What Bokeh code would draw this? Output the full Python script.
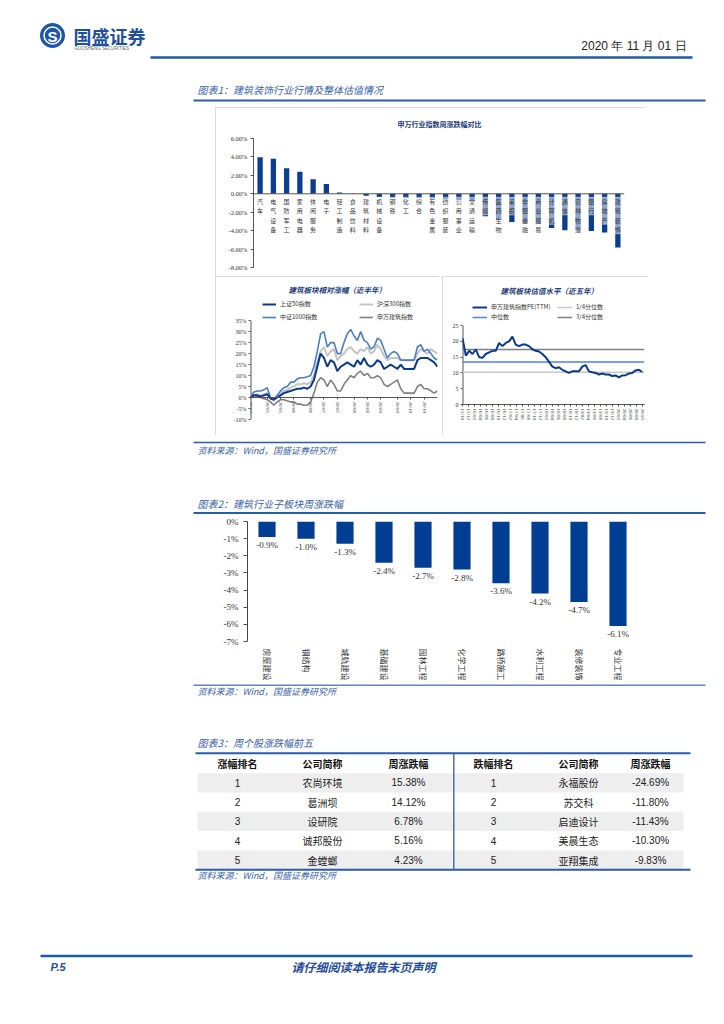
from bokeh.plotting import figure
from bokeh.layouts import column, row
from bokeh.models import Range1d, FactorRange, FixedTicker, Span, Legend, LegendItem, Spacer
from bokeh.core.properties import value
from bokeh.embed import file_html
from bokeh.resources import INLINE

CJK = "Noto Sans CJK SC"
SERIF = "Liberation Serif"
SANS = "Liberation Sans"
LINE_BLUE = "#2b5ca7"
TXT_BLUE = "#3762a8"
BAR_BLUE = "#0a3e90"
PAGE_W = 724

# ---------------- data: figure 1 (top) ----------------
sw_industries = ["汽车", "电气设备", "国防军工", "家用电器", "休闲服务", "电子", "轻工制造",
                 "食品饮料", "建筑材料", "机械设备", "钢铁", "化工", "综合", "有色金属",
                 "纺织服装", "公用事业", "交通运输", "传媒", "医药生物", "采掘", "非银金融",
                 "商业贸易", "计算机", "通信", "农林牧渔", "银行", "房地产", "建筑装饰"]
sw_weekly_chg = [3.96, 3.79, 2.77, 2.39, 1.58, 1.05, 0.14, -0.02, -0.22, -0.36, -0.42, -0.45,
                 -0.46, -0.50, -0.58, -0.68, -0.78, -2.45, -2.85, -3.05, -3.18, -3.27, -3.72,
                 -3.95, -3.95, -4.05, -4.20, -5.82]
sw_y_ticks = [-8, -6, -4, -2, 0, 2, 4, 6]
sw_y_labels = ["-8.00%", "-6.00%", "-4.00%", "-2.00%", "0.00%", "2.00%", "4.00%", "6.00%"]

# ---------------- data: relative performance (half year) ----------------
rel_tick_pos = [0, 5, 9, 13, 18, 22, 26, 31, 35, 39, 44, 48, 52]
rel_tick_labels = ["20/04", "20/05", "20/05", "20/06", "20/06", "20/07", "20/07",
                   "20/08", "20/08", "20/09", "20/09", "20/10", "20/10"]
sz50 = [0, 1, 1, 0.5, 1, 1.5, -0.5, -1, 0, 1, 2, 2.5, 3, 3.5, 4, 4, 4.5, 4, 5, 8, 14, 20, 18,
        14, 17, 16, 12, 14, 15, 16, 15, 14, 17, 15, 18, 15, 14, 15, 17, 16, 13, 14, 15, 14, 13,
        15, 13, 13, 13, 13, 17, 18, 18, 18, 17, 16, 14]
hs300 = [0, 1, 1.5, 1, 1.5, 2, 0, -1, 0.5, 1.5, 3, 3.5, 4.5, 5, 6, 6, 6.5, 6, 7, 10, 16, 21,
         23, 19, 21, 22, 17, 19, 20, 22, 23, 21, 20, 22, 21, 23, 20, 21, 24, 22, 19, 17, 18,
         18, 18, 17, 17, 17, 17, 17, 20, 22, 21, 20, 22, 21, 20]
zz1000 = [0, 2.5, 3, 3, 3.5, 4.5, 0, -1, 1, 3, 4.5, 5, 7, 7, 8.5, 9, 9, 9.5, 10, 14, 21, 29,
          30, 23, 25, 25, 20, 20, 25, 29, 31, 28, 26, 30, 26, 25, 22, 23, 27, 26, 22, 18, 20,
          21, 20, 17, 17, 17, 17, 17, 23, 24, 21, 22, 20, 18, 17]
sw_build = [0, 1, 0.5, 0, -0.5, -1, -2, -3.5, -2, -1, -1, -1.5, -2, -2, -3, -3, -3.5, -3.5,
            -2, 2, 7, 9, 8, 5, 8, 6, 3, 3, 6, 8, 10, 9, 11, 12, 10, 11, 9, 9, 10, 9, 6, 5, 6,
            7, 8, 4, 2, 2, 2, 2, 5, 6, 4, 4, 3, 2, 3]
rel_y_ticks = [-10, -5, 0, 5, 10, 15, 20, 25, 30, 35]
rel_y_labels = ["-10%", "-5%", "0%", "5%", "10%", "15%", "20%", "25%", "30%", "35%"]

# ---------------- data: valuation (five years) ----------------
pe_ttm = [21, 15.5, 17, 16, 17.5, 15, 14.8, 16, 16.5, 17, 17, 19.5, 18.5, 19.5, 20, 21.5, 19,
          18.5, 19, 19, 18.5, 17.5, 17, 16.8, 16, 15, 13.5, 12, 11.5, 11.8, 11, 10.5, 10,
          10.5, 10.5, 10.5, 12, 12.5, 10.5, 10.2, 10, 9.5, 9.8, 9.5, 9.5, 9, 9.2, 8.6, 9.2,
          9.3, 9.8, 10, 10.8, 11, 10.3]
pe_q25 = 10.2
pe_median = 13.5
pe_q75 = 17.4
pe_tick_labels = ["15/10", "15/12", "16/02", "16/04", "16/06", "16/08", "16/10", "16/12",
                  "17/02", "17/04", "17/06", "17/08", "17/10", "17/12", "18/02", "18/04",
                  "18/06", "18/08", "18/10", "18/12", "19/02", "19/04", "19/06", "19/08",
                  "19/10", "19/12", "20/02", "20/04", "20/06", "20/08", "20/10"]
pe_y_ticks = [0, 5, 10, 15, 20, 25]
pe_y_labels = ["0", "5", "10", "15", "20", "25"]

# ---------------- data: figure 2 ----------------
sub_sectors = ["房屋建设", "钢结构", "城轨建设", "基础建设", "园林工程", "化学工程",
               "路桥施工", "水利工程", "装修装饰", "专业工程"]
sub_weekly_chg = [-0.9, -1.0, -1.3, -2.4, -2.7, -2.8, -3.6, -4.2, -4.7, -6.1]
sub_y_ticks = [0, -1, -2, -3, -4, -5, -6, -7]
sub_y_labels = ["0%", "-1%", "-2%", "-3%", "-4%", "-5%", "-6%", "-7%"]

# ---------------- data: figure 3 (table) ----------------
table_header = ["涨幅排名", "公司简称", "周涨跌幅", "跌幅排名", "公司简称", "周涨跌幅"]
gain_rank = ["1", "2", "3", "4", "5"]
gain_names = ["农尚环境", "葛洲坝", "设研院", "诚邦股份", "金螳螂"]
gain_pct = [15.38, 14.12, 6.78, 5.16, 4.23]
loss_rank = ["1", "2", "3", "4", "5"]
loss_names = ["永福股份", "苏交科", "启迪设计", "美晨生态", "亚翔集成"]
loss_pct = [-24.69, -11.80, -11.43, -10.30, -9.83]

SOURCE = "资料来源：Wind，国盛证券研究所"


# ---------------- helpers ----------------
def deco(top, bottom):
    p = figure(width=PAGE_W, height=bottom - top, x_range=Range1d(0, PAGE_W),
               y_range=Range1d(bottom, top), x_axis_type=None, y_axis_type=None,
               toolbar_location=None, output_backend="svg", min_border=0)
    p.outline_line_color = None
    p.frame_align = False
    return p


def txt(p, x, y, s, size, color="#222222", font=CJK, style="normal", align="left",
        baseline="middle"):
    p.text(x=[x], y=[y], text=[s], text_font=value(font), text_font_size=size,
           text_color=color, text_font_style=style, text_align=align,
           text_baseline=baseline)


def hline(p, x0, x1, y, color=LINE_BLUE, w=2.0):
    p.segment(x0=[x0], y0=[y], x1=[x1], y1=[y], line_color=color, line_width=w)


def style_chart(p, box=True):
    p.grid.grid_line_color = None
    p.outline_line_color = None
    p.background_fill_color = "white"
    p.frame_align = False
    if box:
        p.styles = {"outline": "1px solid #cfcfcf", "outline-offset": "-1px"}


def style_axis(ax, size, font=SERIF):
    ax.major_label_text_font = font
    ax.major_label_text_font_size = size
    ax.major_label_text_color = "#333333"
    ax.major_label_standoff = 2
    ax.major_tick_in = 0
    ax.major_tick_out = 2
    ax.minor_tick_line_color = None
    ax.axis_line_color = "#555555"
    ax.major_tick_line_color = "#555555"


def chart_title(p, text, size, offset, standoff):
    p.title.text = text
    p.title.align = "left"
    p.title.offset = offset
    p.title.text_font = CJK
    p.title.text_font_size = size
    p.title.text_color = "#1c3c78"
    p.title.text_font_style = "bold italic"
    p.title.standoff = standoff


def legend_row(p, items, loc, glyph_w, label_w):
    leg = Legend(items=[LegendItem(label=lab, renderers=[r]) for lab, r in items],
                 orientation="horizontal", location=loc,
                 label_text_font=CJK, label_text_font_size="6px", label_text_color="#333333",
                 glyph_width=glyph_w, glyph_height=6, label_height=8, label_width=label_w,
                 label_standoff=4, spacing=3, padding=0, margin=0,
                 border_line_color=None, background_fill_alpha=0)
    p.add_layout(leg)


# ---------------- band 1: header ----------------
hdr = deco(0, 107)
hdr.scatter(x=[52], y=[35], size=25, marker="circle", fill_color="#1d56a5", line_color=None)
hdr.scatter(x=[52], y=[35], size=17, marker="circle", fill_color=None, line_color="white",
            line_width=1.5)
txt(hdr, 52, 35.5, "S", "15px", color="white", font=SANS, style="bold", align="center")
txt(hdr, 73, 35, "国盛证券", "18px", color="#1d4f9d", style="bold")
txt(hdr, 74, 48, "GUOSHENG SECURITIES", "4.5px", color="#666666", font=SANS)
txt(hdr, 686, 45, "2020 年 11 月 01 日", "12px", color="#222222", font=SANS, align="right")
hline(hdr, 150, 692, 57, color="#2358a6", w=2.5)
txt(hdr, 197, 89, "图表1：建筑装饰行业行情及整体估值情况", "10px", color=TXT_BLUE, style="italic")
hline(hdr, 193, 705, 100)

# ---------------- band 2: SW industry weekly change ----------------
p1 = figure(width=430, height=169, x_range=FactorRange(*sw_industries),
            y_range=Range1d(-8, 6), toolbar_location=None, output_backend="svg",
            min_border_left=38, min_border_right=21, min_border_top=27, min_border_bottom=9)
style_chart(p1)
chart_title(p1, "申万行业指数周涨跌幅对比", "7px", 144, 19)
p1.title.text_font_style = "bold"
p1.xaxis.visible = False
p1.yaxis.ticker = FixedTicker(ticks=sw_y_ticks)
p1.yaxis.major_label_overrides = dict(zip(sw_y_ticks, sw_y_labels))
style_axis(p1.yaxis, "6.5px")
p1.yaxis.major_label_standoff = 3
p1.yaxis.major_tick_out = 3
p1.vbar(x=sw_industries, top=sw_weekly_chg, bottom=0, width=0.4, fill_color=BAR_BLUE,
        line_color=None)
p1.add_layout(Span(location=0, dimension="width", line_color="#555555", line_width=1))
p1.text(x=sw_industries, y=[0] * len(sw_industries),
        text=["\n".join(n) for n in sw_industries], text_font=value(CJK),
        text_font_size="6px", text_color="#333333", text_align="center",
        text_baseline="top", text_line_height=1.05, y_offset=3,
        background_fill_color="white", background_fill_alpha=0.55)

band2 = row(Spacer(width=215, height=169), p1, Spacer(width=PAGE_W - 645, height=169),
            spacing=0)

# ---------------- band 3 left: relative performance ----------------
x_rel = list(range(len(sz50)))
p2 = figure(width=224, height=159, x_range=Range1d(0, 56), y_range=Range1d(-10, 44.61),
            toolbar_location=None, output_backend="svg",
            min_border_left=35, min_border_right=2, min_border_top=18, min_border_bottom=16)
style_chart(p2)
chart_title(p2, "建筑板块相对涨幅（近半年）", "7.5px", 38, 10)
p2.yaxis.ticker = FixedTicker(ticks=rel_y_ticks)
p2.yaxis.major_label_overrides = dict(zip(rel_y_ticks, rel_y_labels))
p2.xaxis.ticker = FixedTicker(ticks=rel_tick_pos)
p2.xaxis.major_label_overrides = dict(zip(rel_tick_pos, rel_tick_labels))
p2.xaxis.fixed_location = 0
p2.xaxis.major_label_orientation = "vertical"
style_axis(p2.yaxis, "6px")
style_axis(p2.xaxis, "5px")
p2.yaxis.axis_line_color = None
p2.segment(x0=[x_rel[0]], y0=[rel_y_ticks[0]], x1=[x_rel[0]], y1=[rel_y_ticks[-1]],
           line_color="#555555", line_width=2)
r_sw = p2.line(x_rel, sw_build, line_color="#808080", line_width=1.6)
r_hs = p2.line(x_rel, hs300, line_color="#c4c4c4", line_width=2)
r_zz = p2.line(x_rel, zz1000, line_color="#4a7ec6", line_width=1.6)
r_sz = p2.line(x_rel, sz50, line_color="#0b3a8a", line_width=2)
legend_row(p2, [("上证50指数", r_sz), ("沪深300指数", r_hs)], (12, 111), 14, 76)
legend_row(p2, [("中证1000指数", r_zz), ("申万建筑指数", r_sw)], (12, 98), 14, 76)

# ---------------- band 3 right: valuation ----------------
x_pe = list(range(len(pe_ttm)))
pe_tick_pos = [k * (len(pe_ttm) - 1) / (len(pe_tick_labels) - 1) for k in range(len(pe_tick_labels))]
p3 = figure(width=206, height=159, x_range=Range1d(0, len(pe_ttm) - 0.3),
            y_range=Range1d(0, 32.32), toolbar_location=None, output_backend="svg",
            min_border_left=20, min_border_right=4, min_border_top=22, min_border_bottom=31)
style_chart(p3)
chart_title(p3, "建筑板块估值水平（近五年）", "7.5px", 38, 13)
p3.yaxis.ticker = FixedTicker(ticks=pe_y_ticks)
p3.yaxis.major_label_overrides = dict(zip(pe_y_ticks, pe_y_labels))
p3.xaxis.ticker = FixedTicker(ticks=pe_tick_pos)
p3.xaxis.major_label_overrides = dict(zip(pe_tick_pos, pe_tick_labels))
p3.xaxis.major_label_orientation = "vertical"
style_axis(p3.yaxis, "6px")
style_axis(p3.xaxis, "5px")
p3.yaxis.axis_line_color = None
p3.segment(x0=[x_pe[0]], y0=[pe_y_ticks[0]], x1=[x_pe[0]], y1=[pe_y_ticks[-1]],
           line_color="#555555", line_width=2)
x_span = [x_pe[0], len(pe_ttm) - 0.3]
r_q25 = p3.line(x_span, [pe_q25, pe_q25], line_color="#c8c8c8", line_width=1.5)
r_med = p3.line(x_span, [pe_median, pe_median], line_color="#4a86cf", line_width=1.5)
r_q75 = p3.line(x_span, [pe_q75, pe_q75], line_color="#7f7f7f", line_width=1.5)
r_pe = p3.line(x_pe, pe_ttm, line_color="#0b3a8a", line_width=2)
legend_row(p3, [("申万建筑指数PE(TTM)", r_pe), ("1/4分位数", r_q25)], (10, 93), 15, 63)
legend_row(p3, [("中位数", r_med), ("3/4分位数", r_q75)], (10, 83), 15, 63)

band3 = row(Spacer(width=215, height=159), p2, Spacer(width=3, height=159), p3,
            Spacer(width=PAGE_W - 648, height=159), spacing=0)

# ---------------- band 4: source + figure 2 title ----------------
b4 = deco(435, 515)
hline(b4, 193, 705, 442, w=1.5)
txt(b4, 197, 449.5, SOURCE, "9px", color=TXT_BLUE, style="italic")
txt(b4, 197, 503, "图表2：建筑行业子板块周涨跌幅", "10px", color=TXT_BLUE, style="italic")
hline(b4, 193, 705, 512.5)

# ---------------- band 5: figure 2 chart ----------------
p4 = figure(width=PAGE_W, height=169, x_range=FactorRange(*sub_sectors),
            y_range=Range1d(-7, 0), toolbar_location=None, output_backend="svg",
            min_border_left=247, min_border_right=PAGE_W - 247 - 390, min_border_top=6,
            min_border_bottom=43)
style_chart(p4, box=False)
p4.yaxis.ticker = FixedTicker(ticks=sub_y_ticks)
p4.yaxis.major_label_overrides = dict(zip(sub_y_ticks, sub_y_labels))
style_axis(p4.yaxis, "9px")
p4.yaxis.major_label_standoff = 5
p4.yaxis.major_tick_out = 4
p4.yaxis.axis_line_color = "#444444"
p4.xaxis.major_label_orientation = "vertical"
style_axis(p4.xaxis, "8px", font=CJK)
p4.xaxis.major_label_standoff = 5
p4.xaxis.axis_line_color = None
p4.xaxis.major_tick_line_color = None
p4.vbar(x=sub_sectors, top=0, bottom=sub_weekly_chg, width=0.44, fill_color="#003e93",
        line_color=None)
p4.text(x=sub_sectors, y=sub_weekly_chg, text=[f"{v:.1f}%" for v in sub_weekly_chg],
        text_font=value(SERIF), text_font_size="9px", text_color="#333333",
        text_align="center", text_baseline="top", y_offset=3)

# ---------------- band 6: source, table, footer ----------------
b6 = deco(684, 1022)
hline(b6, 193, 705, 684.5, w=1.5)
txt(b6, 197, 690.5, SOURCE, "9px", color=TXT_BLUE, style="italic")
txt(b6, 197, 741.5, "图表3：周个股涨跌幅前五", "10px", color=TXT_BLUE, style="italic")

col_x = [237, 322, 408, 493, 578, 650]
head_y = 763
row_top = 772.7
row_h = 19.3
n_rows = len(gain_names)
band_rows = [i for i in range(n_rows) if i % 2 == 0]
b6.quad(left=[197] * len(band_rows), right=[683] * len(band_rows),
        top=[row_top + i * row_h for i in band_rows],
        bottom=[row_top + (i + 1) * row_h for i in band_rows],
        fill_color="#eeeeee", line_color=None)
hline(b6, 195, 690, 752.7)
hline(b6, 195, 690, row_top + n_rows * row_h)
b6.segment(x0=[453.3], y0=[753], x1=[453.3], y1=[row_top + n_rows * row_h],
           line_color="#4a6fa8", line_width=1.5)
b6.text(x=col_x, y=[head_y] * 6, text=table_header, text_font=value(CJK),
        text_font_size="10px", text_font_style="bold", text_color="#111111",
        text_align="center", text_baseline="middle")
row_y = [row_top + (i + 0.5) * row_h for i in range(n_rows)]
columns = [(gain_rank, SANS), (gain_names, CJK), ([f"{v:.2f}%" for v in gain_pct], SANS),
           (loss_rank, SANS), (loss_names, CJK), ([f"{v:.2f}%" for v in loss_pct], SANS)]
for cx, (vals, font) in zip(col_x, columns):
    b6.text(x=[cx] * n_rows, y=row_y, text=vals, text_font=value(font),
            text_font_size="10px", text_color="#222222", text_align="center",
            text_baseline="middle")
txt(b6, 197, 875, SOURCE, "9px", color=TXT_BLUE, style="italic")

hline(b6, 40, 692, 955.5, color="#1f5aa6", w=2.5)
txt(b6, 50, 966, "P.5", "11px", color="#1f4e9c", font=SANS, style="bold italic")
txt(b6, 363, 966, "请仔细阅读本报告末页声明", "12px", color="#1f4e9c", style="bold italic",
    align="center")

page = column(hdr, band2, band3, b4, p4, b6, spacing=0)
open("out.html", "w").write(file_html(page, INLINE))
